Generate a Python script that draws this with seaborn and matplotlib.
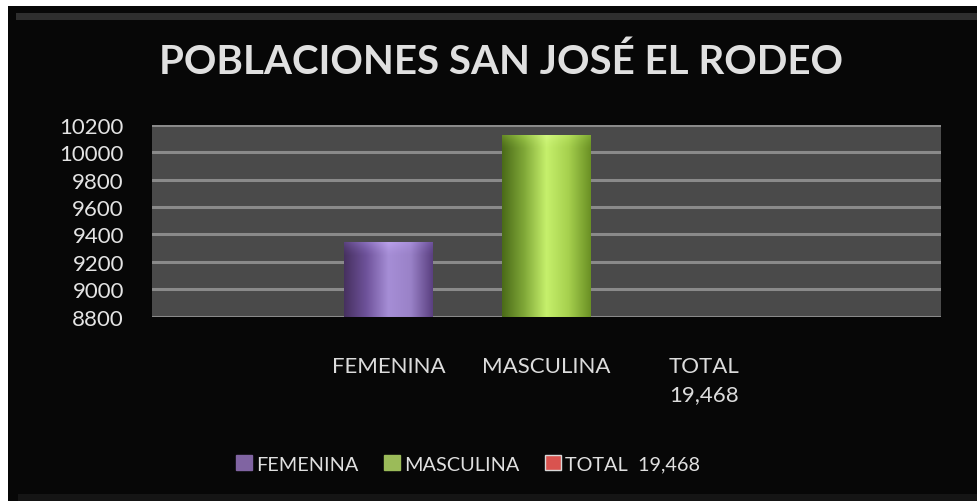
import numpy as np
import pandas as pd
import matplotlib
matplotlib.use("Agg")
import matplotlib.pyplot as plt
from matplotlib.patches import Rectangle, Patch
from matplotlib.colors import LinearSegmentedColormap
import seaborn as sns

# data
categories = ["FEMENINA", "MASCULINA", "TOTAL  19,468"]
tick_labels = ["FEMENINA", "MASCULINA", "TOTAL\n19,468"]
bar_categories = ["FEMENINA", "MASCULINA"]
bar_values = [9345, 10123]
series_colors = ["#8064A2", "#9BBB59", "#D9534F"]
y_ticks = [8800, 9000, 9200, 9400, 9600, 9800, 10000, 10200]

sns.set_theme(style="dark")
plt.rcParams["font.family"] = ["Lato", "DejaVu Sans"]

fig = plt.figure(figsize=(9.78, 5.02), dpi=100, facecolor="white")

# black panel with a soft highlight on top
fig.patches.append(Rectangle((8 / 978, 0), 1, 1 - 7 / 502, transform=fig.transFigure,
                             facecolor="#070707", edgecolor="none", zorder=-3))
fig.patches.append(Rectangle((16 / 978, 1 - 21 / 502), 1, 7 / 502, transform=fig.transFigure,
                             facecolor="#2e2e2e", edgecolor="none", zorder=-2))
fig.patches.append(Rectangle((18 / 978, 0), 1, 7 / 502, transform=fig.transFigure,
                             facecolor="#151515", edgecolor="none", zorder=-2))

ax = fig.add_axes([151.7 / 978, 1 - 317.7 / 502, (941 - 151.7) / 978, (317.7 - 125.7) / 502])
ax.set_facecolor("#4a4a4a")

df = pd.DataFrame({"categoria": bar_categories, "poblacion": bar_values})
sns.barplot(data=df, x="categoria", y="poblacion", hue="categoria",
            order=categories, hue_order=categories, palette=series_colors,
            saturation=1, width=0.56, dodge=False, legend=False, ax=ax,
            edgecolor="none", linewidth=0, zorder=3)

ax.set_xlim(-1.5, 3.5)
ax.set_ylim(y_ticks[0], y_ticks[-1])
ax.set_yticks(y_ticks)
ax.set_xticks(range(len(categories)))
ax.set_xticklabels(tick_labels, va="top", linespacing=1.55)
ax.tick_params(axis="x", length=0, pad=28, labelsize=16, labelcolor="#dcdcdc")
ax.tick_params(axis="y", length=0, pad=20, labelsize=16, labelcolor="#e4e4e4")
ax.set_xlabel("")
ax.set_ylabel("")
for s in ax.spines.values():
    s.set_visible(False)
ax.grid(axis="y", color="#8a8a8a", linewidth=2.2, zorder=1)
ax.grid(axis="x", visible=False)
ax.set_axisbelow(True)

# cylinder-like shading for the bars
shades = {
    "#8064A2": ["#46305f", "#6e529a", "#a68ed6", "#9a82c8", "#5a3f80"],
    "#9BBB59": ["#4a6a18", "#80a838", "#c6f06c", "#a6d04e", "#6a9024"],
}
rims = {
    "#8064A2": ["#6a4f96", "#9a80d0", "#c8acf8", "#b096e4", "#7a5eae"],
    "#9BBB59": ["#78a030", "#a8d850", "#dafc8c", "#c0ec66", "#8ab83c"],
}
grad = np.linspace(0, 1, 256).reshape(1, -1)
fade = np.linspace(0, 1, 64) ** 1.5
ybot = y_ticks[0]
for patch in list(ax.patches):
    h = patch.get_height()
    if h == 0 or np.isnan(h):
        continue
    fc = matplotlib.colors.to_hex(patch.get_facecolor()).upper()
    if fc not in shades:
        continue
    x0, w = patch.get_x(), patch.get_width()
    top = patch.get_y() + h
    patch.set_visible(False)
    body = Rectangle((x0, ybot), w, top - ybot, transform=ax.transData)
    im = ax.imshow(grad, cmap=LinearSegmentedColormap.from_list("cyl", shades[fc]),
                   extent=[x0, x0 + w, ybot, top], aspect="auto", zorder=4, origin="lower")
    im.set_clip_path(body)
    # lighter cap at the top of the cylinder, fading downwards
    rgba = LinearSegmentedColormap.from_list("rim", rims[fc])(np.tile(grad, (64, 1)))
    rgba[..., 3] = 0.7 * fade[:, None]
    rim = ax.imshow(rgba, extent=[x0, x0 + w, top - 110, top], aspect="auto",
                    zorder=5, origin="lower")
    rim.set_clip_path(body)

ax.set_xlim(-1.5, 3.5)
ax.set_ylim(y_ticks[0], y_ticks[-1])

fig.text(0.5125, 1 - 62 / 502, "POBLACIONES SAN JOSÉ EL RODEO", ha="center", va="center",
         fontsize=29, fontweight="bold", color="#e0e0e0")

handles = [Patch(facecolor=c, edgecolor="#d8d8d8" if i == 2 else c, linewidth=1)
           for i, c in enumerate(series_colors)]
fig.legend(handles, categories, loc="center", bbox_to_anchor=(0.4785, 1 - 465 / 502),
           ncol=3, frameon=False, fontsize=14.3, labelcolor="#e0e0e0",
           handlelength=0.8, handleheight=0.8, handletextpad=0.2, columnspacing=1.3)

fig.savefig("out.png", dpi=100, facecolor=fig.get_facecolor())
